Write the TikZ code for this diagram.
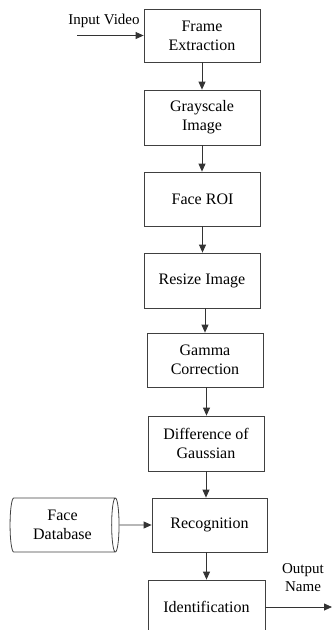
\documentclass[tikz,border=0pt]{standalone}
\usepackage{fontspec}
\setmainfont{Liberation Serif}
\usetikzlibrary{arrows.meta,shapes.geometric}
\begin{document}
\begin{tikzpicture}[x=1pt,y=-1pt,
  box/.style={draw=black!75, line width=0.8pt, minimum width=116pt, minimum height=54pt, align=center, font=\fontsize{16}{19}\selectfont, inner sep=0pt},
  arr/.style={draw=black!80, line width=0.8pt, -{Triangle[length=8pt,width=7pt]}},
  lbl/.style={font=\fontsize{15}{18}\selectfont, align=center, inner sep=0pt}]
\useasboundingbox (0,0) rectangle (332,630);
\clip (0,0) rectangle (332,630);
\node[box, minimum height=53pt] (fe) at (202,35.5) {Frame\\Extraction};
\node[box, minimum height=55pt] (gi) at (202,117.5) {Grayscale\\Image};
\node[box] (roi) at (202.5,199) {Face ROI};
\node[box, minimum height=55pt] (ri) at (202,280.5) {Resize Image};
\node[box] (gc) at (205,360) {Gamma\\Correction};
\node[box, minimum height=55pt] (dog) at (206,443.5) {Difference of\\Gaussian};
\node[box, minimum width=115pt] (rec) at (209.5,525) {Recognition};
\node[box, minimum width=117pt] (idn) at (206.5,607) {Identification};
\node[draw=black!75, line width=0.8pt, shape=cylinder, aspect=0.25, minimum width=54pt, minimum height=109pt, align=center, font=\fontsize{16}{19}\selectfont, inner sep=0pt] (db) at (62.5,525) {Face\\Database};
\coordinate (in) at (77,35.5);
\coordinate (out) at (332,607);
\node[lbl] (inl) at (104,21) {Input Video};
\node[lbl] (outl) at (303,578) {Output\\Name};
\draw[arr] (in) -- (fe.west);
\draw[arr] (fe.south) -- (fe.south |- gi.north);
\draw[arr] (gi.south) -- (gi.south |- roi.north);
\draw[arr] (roi.south) -- (roi.south |- ri.north);
\draw[arr] ([xshift=3pt]ri.south) -- ([xshift=3pt]ri.south |- gc.north);
\draw[arr] ([xshift=1.5pt]gc.south) -- ([xshift=1.5pt]gc.south |- dog.north);
\draw[arr] (dog.south) -- (dog.south |- rec.north);
\draw[arr] (db.east) -- (rec.west);
\draw[arr] ([xshift=-3pt]rec.south) -- ([xshift=-3pt]rec.south |- idn.north);
\draw[arr] (idn.east) -- (out);
\end{tikzpicture}
\end{document}
